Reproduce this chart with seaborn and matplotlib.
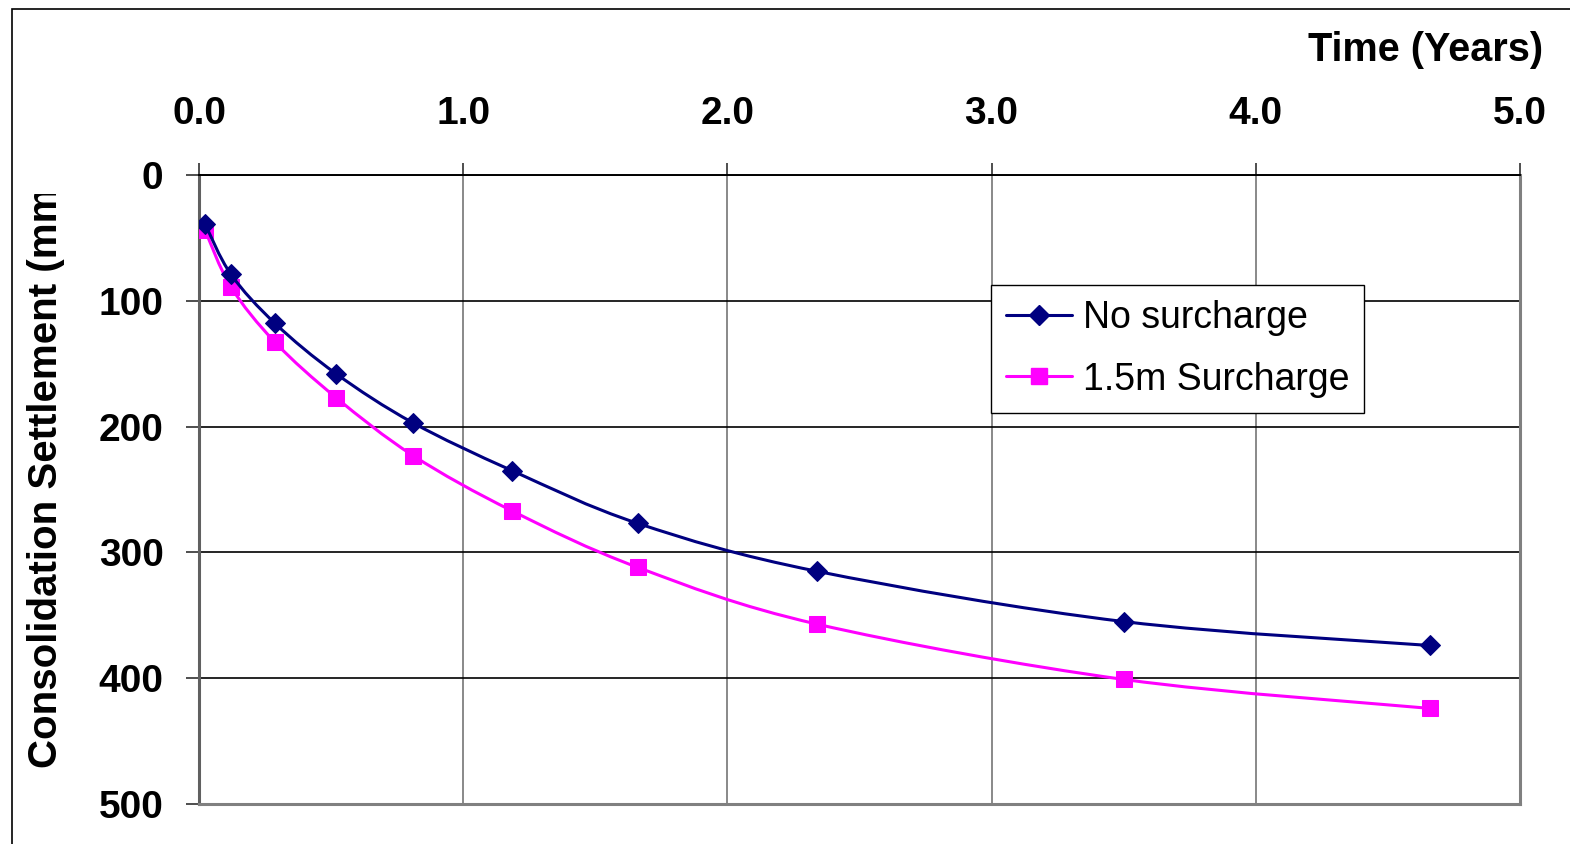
import matplotlib
matplotlib.use("Agg")
import matplotlib.pyplot as plt
import seaborn as sns
import pandas as pd
from matplotlib.patches import Rectangle, PathPatch
from matplotlib.path import Path
from matplotlib.lines import Line2D
from matplotlib.transforms import Bbox

# values
time_yrs = [0.023, 0.121, 0.288, 0.519, 0.81, 1.185, 1.662, 2.339, 3.501, 4.659]
no_surcharge = [39, 79, 118, 158, 197, 235, 277, 315, 355, 374]
surcharge_15m = [44, 89, 133, 177, 223, 267, 312, 357, 401, 424]
x_ticks = [0, 1, 2, 3, 4, 5]
x_tick_labels = ['0.0', '1.0', '2.0', '3.0', '4.0', '5.0']
y_ticks = [0, 100, 200, 300, 400, 500]

NAVY = '#000080'
PINK = '#FF00FF'

sns.set_style("white")
plt.rcParams['font.family'] = ['Liberation Sans', 'DejaVu Sans']
plt.rcParams['text.color'] = 'black'
plt.rcParams['xtick.color'] = 'black'
plt.rcParams['ytick.color'] = 'black'


def smooth_path(xs, ys):
    # excel-style smoothed line: cubic bezier segments through the points
    pts = list(zip(xs, ys))
    n = len(pts)
    verts = [pts[0]]
    codes = [Path.MOVETO]
    for i in range(n - 1):
        p0 = pts[max(i - 1, 0)]
        p1 = pts[i]
        p2 = pts[i + 1]
        p3 = pts[min(i + 2, n - 1)]
        c1 = (p1[0] + (p2[0] - p0[0]) / 6, p1[1] + (p2[1] - p0[1]) / 6)
        c2 = (p2[0] - (p3[0] - p1[0]) / 6, p2[1] - (p3[1] - p1[1]) / 6)
        verts += [c1, c2, p2]
        codes += [Path.CURVE4] * 3
    return Path(verts, codes)


W, H = 1570, 844
fig = plt.figure(figsize=(W / 100, H / 100), dpi=100)
ax = fig.add_axes([199 / W, 1 - 804 / H, (1520 - 199) / W, (804 - 175) / H])

df = pd.DataFrame({'time': time_yrs, 'a': no_surcharge, 'b': surcharge_15m})

# markers from seaborn, smoothed connecting lines as path patches
sns.lineplot(data=df, x='time', y='a', ax=ax, color=NAVY, marker='D',
             markersize=10.5, markeredgecolor=NAVY, linestyle='', zorder=5,
             legend=False)
sns.lineplot(data=df, x='time', y='b', ax=ax, color=PINK, marker='s',
             markersize=11, markeredgecolor=PINK, linestyle='', zorder=4,
             legend=False)
ax.add_patch(PathPatch(smooth_path(time_yrs, no_surcharge), fill=False,
                       edgecolor=NAVY, linewidth=2.2, zorder=4))
ax.add_patch(PathPatch(smooth_path(time_yrs, surcharge_15m), fill=False,
                       edgecolor=PINK, linewidth=2.2, zorder=3))

ax.set_xlim(0, 5)
ax.set_ylim(500, 0)
ax.xaxis.tick_top()
ax.set_xticks(x_ticks)
ax.set_xticklabels(x_tick_labels)
ax.set_yticks(y_ticks)
ax.set_xlabel('')
ax.set_ylabel('')

ax.xaxis.grid(True, color='#808080', linewidth=1.3)
ax.yaxis.grid(True, color='black', linewidth=1.2)
ax.set_axisbelow(True)

for side in ['left', 'right', 'bottom']:
    ax.spines[side].set_color('#808080')
    ax.spines[side].set_linewidth(2.2)
ax.spines['left'].set_color('#606060')
ax.spines['top'].set_color('black')
ax.spines['top'].set_linewidth(1.4)

ax.tick_params(axis='x', direction='out', length=9, width=1.3, color='#404040',
               pad=22, labelsize=28, top=True, bottom=False)
ax.tick_params(axis='y', direction='out', length=9.5, width=1.3, color='#404040',
               pad=16, labelsize=28, left=True)
for lab in ax.get_xticklabels() + ax.get_yticklabels():
    lab.set_fontweight('bold')

handles = [
    Line2D([], [], color=NAVY, linewidth=2.2, marker='D', markersize=10.5),
    Line2D([], [], color=PINK, linewidth=2.2, marker='s', markersize=11),
]
leg = ax.legend(handles, ['No surcharge', '1.5m Surcharge'], loc='upper left',
                bbox_to_anchor=(991 / W, 1 - 285 / H),
                bbox_transform=fig.transFigure, borderaxespad=0,
                fontsize=27, frameon=True, fancybox=False, edgecolor='black',
                handlelength=1.75, handletextpad=0.3, borderpad=0.4,
                labelspacing=0.68, framealpha=1)
leg.get_frame().set_linewidth(1.0)

fig.text(1543 / W, 1 - 50 / H, 'Time (Years)', ha='right', va='center',
         fontsize=28.5, fontweight='bold')

ylab = fig.text(46 / W, 1 - 768 / H, 'Consolidation Settlement (mm)',
                rotation=90, ha='center', va='bottom', fontsize=29,
                fontweight='bold')
ylab.set_clip_box(Bbox([[0, 0], [W, H - 194]]))
ylab.set_clip_on(True)

# outer frame of the chart area
fig.patches.append(Rectangle((12 / W, -0.05), 1.2, 1 - 9 / H + 0.05,
                             transform=fig.transFigure, fill=False,
                             edgecolor='black', linewidth=1.2))

fig.savefig('out.png', dpi=100)
